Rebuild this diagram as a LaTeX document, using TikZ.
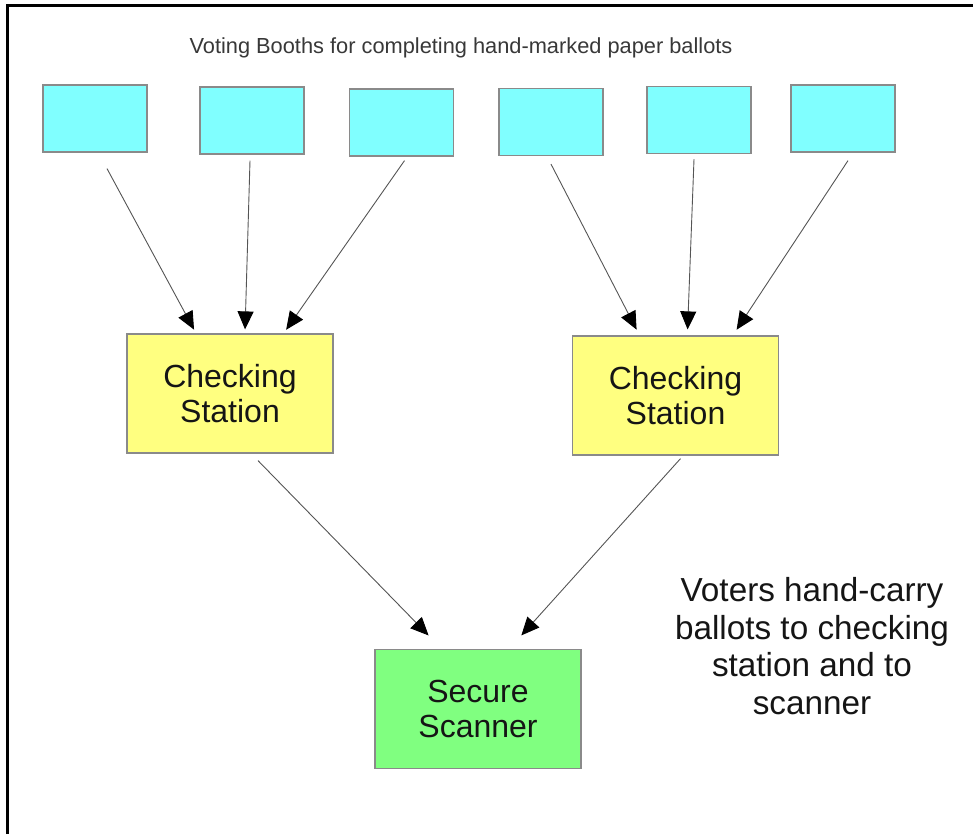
\documentclass[tikz,border=0pt]{standalone}
\usepackage{fontspec}
\setmainfont{Liberation Sans}
\usetikzlibrary{arrows.meta}
\definecolor{booth}{HTML}{80FFFF}
\definecolor{check}{HTML}{FFFF80}
\definecolor{scan}{HTML}{80FF80}
\definecolor{edge}{HTML}{8A8A8A}
\definecolor{linec}{HTML}{555555}
\definecolor{txt}{HTML}{151515}
\tikzset{
  boothbox/.style={draw=edge, line width=1.2pt, fill=booth, minimum width=104pt, minimum height=67pt, inner sep=0pt},
  bigbox/.style={draw=edge, line width=1.2pt, minimum width=206pt, minimum height=119pt, inner sep=0pt, align=center, text=txt,
    font=\fontsize{32}{35}\selectfont},
  arr/.style={draw=linec, line width=0.9pt, -{Triangle[length=18pt,width=16pt,color=black]}, shorten >=2pt}
}
\begin{document}
\begin{tikzpicture}[x=1pt,y=-1pt]
\useasboundingbox (0,0) rectangle (973,834);
\draw[line width=3pt] (7,834) -- (7,6) -- (973,6);
\node[text=txt!85!white, font=\fontsize{21.8}{24}\selectfont] (title) at (461,48) {Voting Booths for completing hand-marked paper ballots};
\node[boothbox] (b1) at (95,118.5) {};
\node[boothbox] (b2) at (252,120.5) {};
\node[boothbox] (b3) at (401.5,122.5) {};
\node[boothbox] (b4) at (551,122) {};
\node[boothbox] (b5) at (699,120) {};
\node[boothbox] (b6) at (843,118.5) {};
\node[bigbox, fill=check] (c1) at (230,393.5) {Checking\\Station};
\node[bigbox, fill=check] (c2) at (675.5,395.5) {Checking\\Station};
\node[bigbox, fill=scan] (s) at (478,709) {Secure\\Scanner};
\node[text=txt, align=center, font=\fontsize{33.3}{37.5}\selectfont] (note) at (812,646) {Voters hand-carry\\ballots to checking\\station and to\\scanner};
\draw[arr] ([xshift=12pt,yshift=-16pt]b1.south) -- ([xshift=-35pt,yshift=2pt]c1.north);
\draw[arr] ([xshift=-2pt,yshift=-6pt]b2.south) -- ([xshift=15pt,yshift=2pt]c1.north);
\draw[arr] ([xshift=3pt,yshift=-4pt]b3.south) -- ([xshift=55pt,yshift=2pt]c1.north);
\draw[arr] ([xshift=0pt,yshift=-8pt]b4.south) -- ([xshift=-38pt,yshift=4pt]c2.north);
\draw[arr] ([xshift=-5pt,yshift=-5pt]b5.south) -- ([xshift=12pt,yshift=4pt]c2.north);
\draw[arr] ([xshift=5pt,yshift=-8pt]b6.south) -- ([xshift=60pt,yshift=4pt]c2.north);
\draw[arr] ([xshift=28pt,yshift=-7pt]c1.south) -- ([xshift=-48pt,yshift=12pt]s.north);
\draw[arr] ([xshift=5pt,yshift=-3pt]c2.south) -- ([xshift=42pt,yshift=12pt]s.north);
\end{tikzpicture}
\end{document}
